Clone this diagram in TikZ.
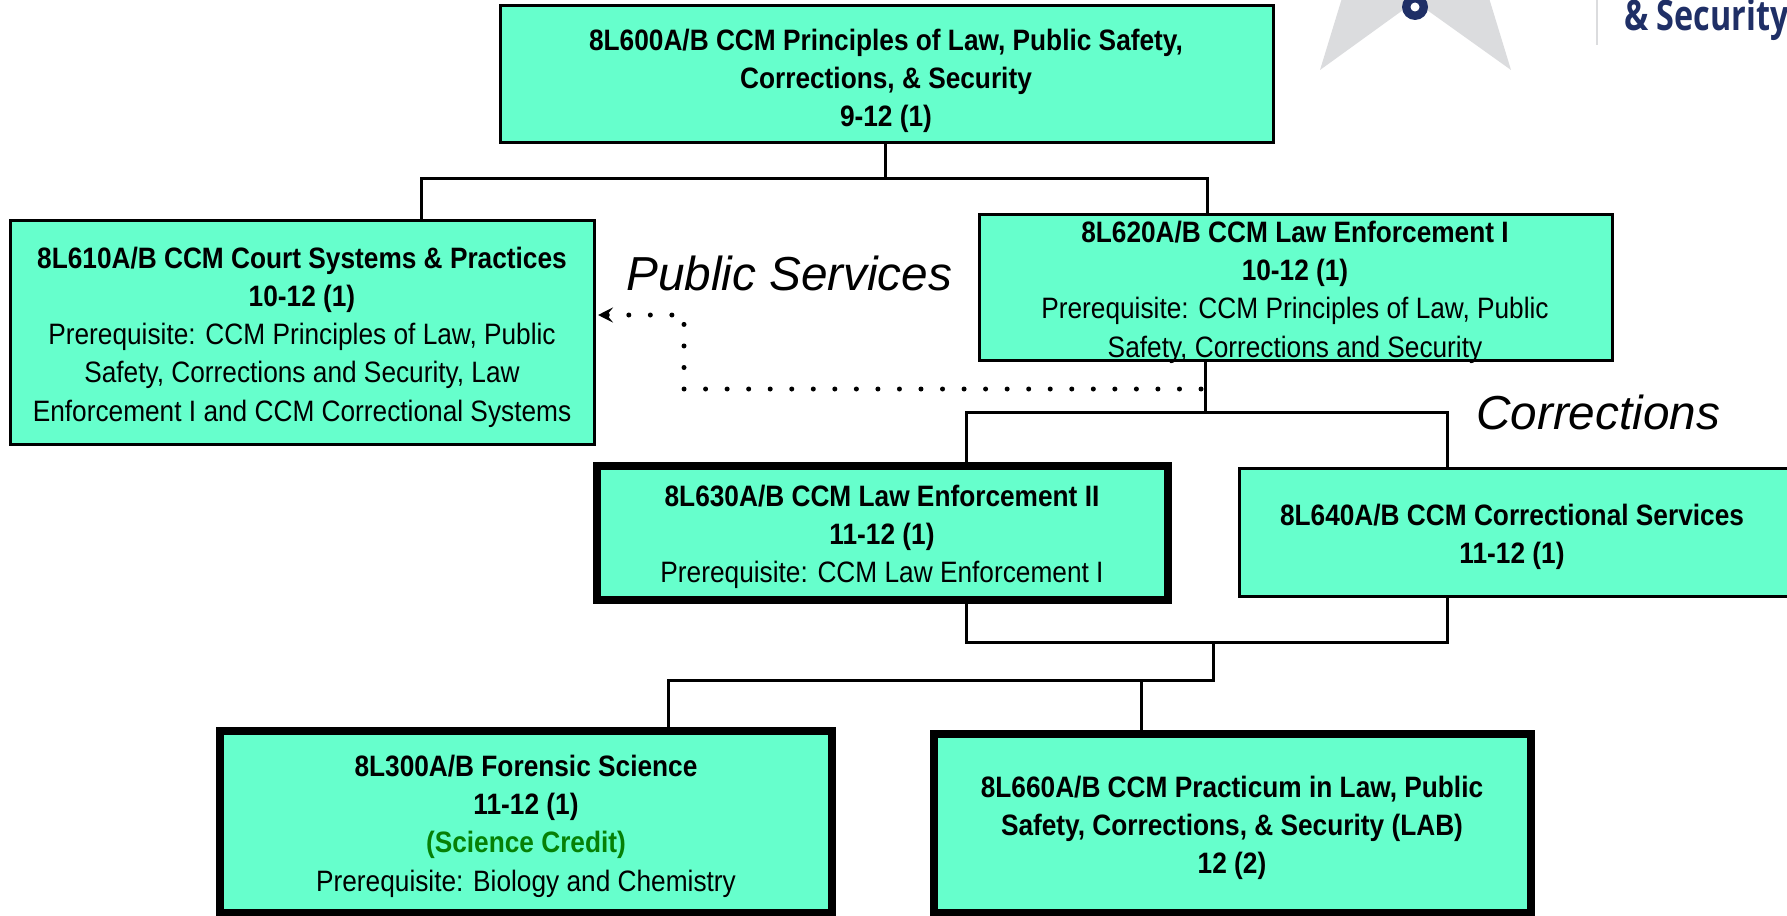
\documentclass[tikz,border=0pt]{standalone}
\usepackage{fontspec}
\setmainfont[FakeStretch=0.89]{Liberation Sans}
\newfontfamily\italfont[ItalicFont={Liberation Sans Italic}]{Liberation Sans}
\newfontfamily\logofont[FakeStretch=0.77]{Open Sans}
\usetikzlibrary{arrows.meta,calc}
\definecolor{boxfill}{HTML}{66FFCC}
\definecolor{navy}{HTML}{1F2F66}
\definecolor{stargrey}{HTML}{DBDCDE}
\definecolor{creditgreen}{HTML}{068006}
\tikzset{
  x=1pt,y=-1pt,
  coursebox/.style={draw=black,fill=boxfill,line width=3pt,outer sep=0pt,inner sep=0pt,rectangle},
  heavybox/.style={coursebox,line width=8pt},
  coursetext/.style={align=center,inner sep=0pt,font=\fontsize{29.5}{38.3}\selectfont},
  track/.style={inner sep=0pt,anchor=base west,font=\italfont\itshape\fontsize{47.7}{56}\selectfont},
  link/.style={draw=black,line width=3pt,line cap=rect},
  dotlink/.style={draw=black,line width=5pt,line cap=round,dash pattern=on 0pt off 21.54pt,
    -{Stealth[length=15pt,width=15pt,inset=6pt]}}
}
\begin{document}
\begin{tikzpicture}
\useasboundingbox (0,0) rectangle (1787,915);
\clip (0,0) rectangle (1787,915);
% logo fragment
\fill[stargrey] (1342,-2) -- (1320,70) -- (1403,10) -- (1427,10) -- (1511,70) -- (1489,-2) -- cycle;
\fill[navy] (1415,7) circle (13);
\fill[white] (1415,7) circle (4.5);
\fill[stargrey] (1596,-2) rectangle (1598,45);
\node[inner sep=0pt,anchor=base west,text=navy,font=\logofont\bfseries\fontsize{42}{50}\selectfont] (logotext) at (1624,31) {\& Security};
% boxes
\node[coursebox,minimum width=773,minimum height=136] (law) at (886.5,74) {};
\node[coursebox,minimum width=584,minimum height=224] (court) at (302,332) {};
\node[coursebox,minimum width=633,minimum height=146] (le1) at (1295.5,287) {};
\node[heavybox,minimum width=571,minimum height=134] (le2) at (882.5,533) {};
\node[coursebox,minimum width=560,minimum height=128] (corr) at (1519,532) {};
\node[heavybox,minimum width=612,minimum height=182] (foren) at (526,822) {};
\node[heavybox,minimum width=597,minimum height=179] (prac) at (1232.5,823.5) {};
% text
\node[coursetext] (lawt) at (886,81) {\textbf{8L600A/B CCM Principles of Law, Public Safety,}\\\textbf{Corrections, \& Security}\\\textbf{9-12 (1)}};
\node[coursetext] (courtt) at (302,337) {\textbf{8L610A/B CCM Court Systems \& Practices}\\\textbf{10-12 (1)}\\Prerequisite: CCM Principles of Law, Public\\Safety, Corrections and Security, Law\\Enforcement I and CCM Correctional Systems};
\node[coursetext] (le1t) at (1295,292) {\textbf{8L620A/B CCM Law Enforcement I}\\\textbf{10-12 (1)}\\Prerequisite: CCM Principles of Law, Public\\Safety, Corrections and Security};
\node[coursetext] (le2t) at (882,537) {\textbf{8L630A/B CCM Law Enforcement II}\\\textbf{11-12 (1)}\\Prerequisite: CCM Law Enforcement I};
\node[coursetext] (corrt) at (1512,537) {\textbf{8L640A/B CCM Correctional Services}\\\textbf{11-12 (1)}};
\node[coursetext] (forent) at (526,826) {\textbf{8L300A/B Forensic Science}\\\textbf{11-12 (1)}\\\textcolor{creditgreen}{\textbf{(Science Credit)}}\\Prerequisite: Biology and Chemistry};
\node[coursetext] (pract) at (1232,828) {\textbf{8L660A/B CCM Practicum in Law, Public}\\\textbf{Safety, Corrections, \& Security (LAB)}\\\textbf{12 (2)}};
\node[track] (pubs) at (626,290) {Public Services};
\node[track] (corrs) at (1476,429) {Corrections};
% connectors
\coordinate (j1) at (885,178);
\coordinate (ca) at (421,0);
\coordinate (cb) at (1207,0);
\draw[link] (law.south -| j1) -- (j1);
\draw[link] (court.north -| ca) |- (j1) -| (le1.north -| cb);
\coordinate (j2) at (1205,412);
\draw[link] (le1.south -| j2) -- (j2);
\coordinate (xa) at (966,0);
\coordinate (xb) at (1447,0);
\draw[link] (le2.north -| xa) |- (j2) -| (corr.north -| xb);
\coordinate (j3) at (1213,642);
\draw[link] (le2.south -| xa) |- (j3) -| (corr.south -| xb);
\coordinate (j4) at (1213,680);
\draw[link] (j3) -- (j4);
\coordinate (xc) at (668,0);
\coordinate (xd) at (1141,0);
\draw[link] (foren.north -| xc) |- (j4);
\draw[link] (prac.north -| xd) -- (j4 -| xd);
\coordinate (d1) at (1201,389);
\coordinate (d2) at (684,389);
\coordinate (d3) at (684,315);
\draw[dotlink,shorten >=4pt] (d1) -- (d2) -- (d3) -- (court.east |- d3);
\end{tikzpicture}
\end{document}
